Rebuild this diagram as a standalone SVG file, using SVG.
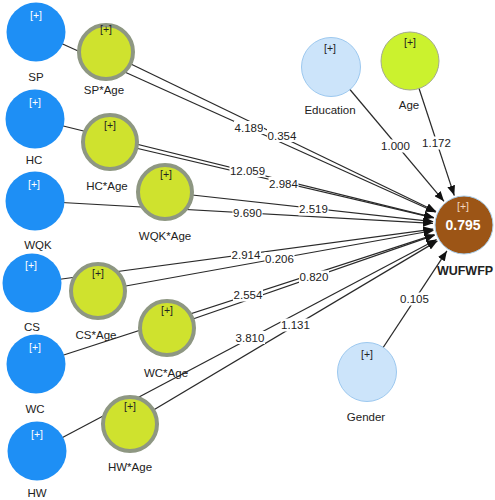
<svg xmlns="http://www.w3.org/2000/svg" width="495" height="500" viewBox="0 0 495 500">
<style>
text{font-family:"Liberation Sans",Arial,sans-serif;}
.lbl{font-size:11.5px;fill:#222;text-anchor:middle;}
.plus{font-size:10.5px;text-anchor:middle;fill:#222;}
.wplus{fill:#fff;}
.w{font-size:11.5px;fill:#222;text-anchor:middle;}
.bg{fill:#fff;}
.ln{stroke:#2a2a2a;stroke-width:1.25;fill:none;marker-end:url(#ah);}
.blue{fill:#1e8ff5;}
.lb{fill:#cce4fa;stroke:#9cc8ef;stroke-width:1;}
.age{fill:#cbf22e;stroke:#a3aa8e;stroke-width:1;}
.ia{fill:#cfe22e;stroke:#8e9782;stroke-width:4;}
</style>
<defs>
<marker id="ah" viewBox="0 0 10 8" refX="10" refY="4" markerWidth="10" markerHeight="8" markerUnits="userSpaceOnUse" orient="auto">
<path d="M0,0 L10,4 L0,8 Z" fill="#111"/>
</marker>
</defs>
<rect width="495" height="500" fill="#fff"/>
<g id="connectors">
<line class="ln" x1="36" y1="32" x2="435.7" y2="212.3"/>
<line class="ln" x1="106" y1="52" x2="436.1" y2="211.5"/>
<line class="ln" x1="35" y1="119" x2="433.9" y2="217.6"/>
<line class="ln" x1="110" y1="142" x2="433.8" y2="217.9"/>
<line class="ln" x1="35" y1="201" x2="433" y2="223.3"/>
<line class="ln" x1="165" y1="192" x2="433.2" y2="221.6"/>
<line class="ln" x1="32" y1="283" x2="433.3" y2="229.1"/>
<line class="ln" x1="98" y1="291" x2="433.5" y2="230.5"/>
<line class="ln" x1="36" y1="364" x2="434.5" y2="234.6"/>
<line class="ln" x1="167" y1="328" x2="434.7" y2="235.2"/>
<line class="ln" x1="37" y1="451" x2="436.6" y2="239.5"/>
<line class="ln" x1="130" y1="424" x2="437.4" y2="240.9"/>
<line class="ln" x1="331" y1="67" x2="444" y2="201.3"/>
<line class="ln" x1="410" y1="61" x2="454.3" y2="195.6"/>
<line class="ln" x1="367" y1="372" x2="446.9" y2="250.9"/>
<g id="weights">
<rect class="bg" x="234" y="121" width="30" height="13"/><text class="w" x="249" y="131.5">4.189</text>
<rect class="bg" x="267" y="129" width="30" height="13"/><text class="w" x="282" y="139.5">0.354</text>
<rect class="bg" x="229.5" y="164" width="36" height="13"/><text class="w" x="247.5" y="174.5">12.059</text>
<rect class="bg" x="268.5" y="177" width="30" height="13"/><text class="w" x="283.5" y="187.5">2.984</text>
<rect class="bg" x="232.5" y="206.5" width="30" height="13"/><text class="w" x="247.5" y="217">9.690</text>
<rect class="bg" x="298.5" y="202.5" width="30" height="13"/><text class="w" x="313.5" y="213">2.519</text>
<rect class="bg" x="231" y="248" width="30" height="13"/><text class="w" x="246" y="258.5">2.914</text>
<rect class="bg" x="264.5" y="252" width="30" height="13"/><text class="w" x="279.5" y="262.5">0.206</text>
<rect class="bg" x="233" y="288.5" width="30" height="13"/><text class="w" x="248" y="299">2.554</text>
<rect class="bg" x="299" y="270.5" width="30" height="13"/><text class="w" x="314" y="281">0.820</text>
<rect class="bg" x="235" y="331" width="30" height="13"/><text class="w" x="250" y="341.5">3.810</text>
<rect class="bg" x="280.5" y="318.5" width="30" height="13"/><text class="w" x="295.5" y="329">1.131</text>
<rect class="bg" x="380.5" y="139.5" width="30" height="13"/><text class="w" x="395.5" y="150">1.000</text>
<rect class="bg" x="421.5" y="136.5" width="30" height="13"/><text class="w" x="436.5" y="147">1.172</text>
<rect class="bg" x="399.5" y="292.5" width="30" height="13"/><text class="w" x="414.5" y="303">0.105</text>
</g>
</g>
<g id="SP"><circle class="blue" cx="36" cy="32" r="29.5"/><text class="plus wplus" x="36" y="19">[+]</text><text class="lbl" x="36" y="81">SP</text></g>
<g id="SP_Age"><circle class="ia" cx="106" cy="52" r="27"/><text class="plus" x="106" y="33">[+]</text><text class="lbl" x="104" y="94">SP*Age</text></g>
<g id="HC"><circle class="blue" cx="35" cy="119" r="29.5"/><text class="plus wplus" x="35" y="106">[+]</text><text class="lbl" x="34" y="164">HC</text></g>
<g id="HC_Age"><circle class="ia" cx="110" cy="142" r="27"/><text class="plus" x="110" y="129">[+]</text><text class="lbl" x="107" y="190">HC*Age</text></g>
<g id="WQK"><circle class="blue" cx="35" cy="201" r="29.5"/><text class="plus wplus" x="34" y="188">[+]</text><text class="lbl" x="38" y="249">WQK</text></g>
<g id="WQK_Age"><circle class="ia" cx="165" cy="192" r="27"/><text class="plus" x="166" y="178">[+]</text><text class="lbl" x="165" y="240">WQK*Age</text></g>
<g id="CS"><circle class="blue" cx="32" cy="283" r="29.5"/><text class="plus wplus" x="31" y="269">[+]</text><text class="lbl" x="32" y="331">CS</text></g>
<g id="CS_Age"><circle class="ia" cx="98" cy="291" r="27"/><text class="plus" x="98" y="277">[+]</text><text class="lbl" x="96" y="339">CS*Age</text></g>
<g id="WC"><circle class="blue" cx="36" cy="364" r="29.5"/><text class="plus wplus" x="35" y="351">[+]</text><text class="lbl" x="35" y="413">WC</text></g>
<g id="WC_Age"><circle class="ia" cx="167" cy="328" r="27"/><text class="plus" x="167" y="314">[+]</text><text class="lbl" x="166" y="377">WC*Age</text></g>
<g id="HW"><circle class="blue" cx="37" cy="451" r="29.5"/><text class="plus wplus" x="37" y="438">[+]</text><text class="lbl" x="37" y="497">HW</text></g>
<g id="HW_Age"><circle class="ia" cx="130" cy="424" r="27"/><text class="plus" x="130" y="410">[+]</text><text class="lbl" x="130" y="471">HW*Age</text></g>
<g id="Education"><circle class="lb" cx="331" cy="67" r="29.5"/><text class="plus" x="330" y="52">[+]</text><text class="lbl" x="330" y="114">Education</text></g>
<g id="Age"><circle class="age" cx="410" cy="61" r="29"/><text class="plus" x="410" y="46">[+]</text><text class="lbl" x="409" y="109">Age</text></g>
<g id="Gender"><circle class="lb" cx="367" cy="372" r="29.5"/><text class="plus" x="367" y="358">[+]</text><text class="lbl" x="366" y="421">Gender</text></g>
<g id="WUFWFP"><circle cx="464" cy="225" r="29" fill="#9c5516" stroke="#a9cfee" stroke-width="1"/><text class="plus" x="463" y="210" style="fill:#f3d9c2">[+]</text><text x="463" y="230" font-size="14" font-weight="bold" fill="#fff" text-anchor="middle">0.795</text><text x="465" y="275" font-size="12.5" font-weight="bold" fill="#222" text-anchor="middle">WUFWFP</text></g>
</svg>
